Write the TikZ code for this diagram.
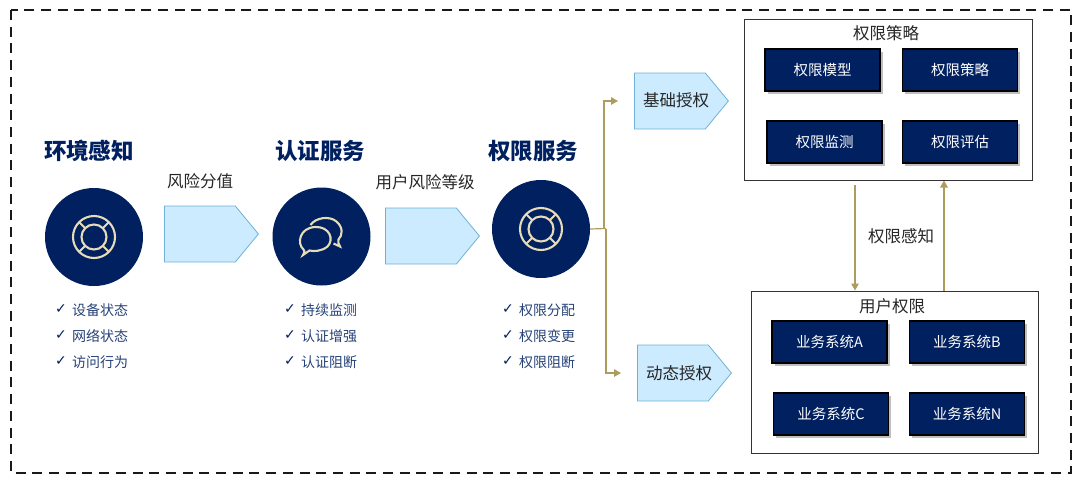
\documentclass[tikz,border=0pt]{standalone}
\usepackage{fontspec}
\setmainfont{Noto Sans CJK SC}
\newfontfamily\symfont{DejaVu Sans}
\usetikzlibrary{arrows.meta,shapes.symbols}
\definecolor{navy}{HTML}{002060}
\definecolor{gold}{HTML}{AD9C5E}
\definecolor{cream}{HTML}{E6DCB8}
\definecolor{skyfill}{HTML}{CCEBFF}
\definecolor{skyline}{HTML}{6FB1D6}
\tikzset{
  title/.style={text=navy,font=\fontsize{22.5}{24}\selectfont\bfseries,inner sep=0pt},
  label/.style={text=black!85,font=\fontsize{16.5}{18}\selectfont,inner sep=0pt},
  item/.style={text=navy!85,font=\fontsize{14}{16}\selectfont,inner sep=0pt,anchor=west},
  tick/.style={text=navy,font=\fontsize{14}{14}\selectfont\symfont,inner sep=0pt},
  disc/.style={circle,fill=navy,minimum size=98pt,inner sep=0pt},
  icon/.style={cream,line width=2.1pt},
  arrowbox/.style={signal,signal to=east,signal pointer angle=101,draw=skyline,fill=skyfill,line width=0.8pt,minimum width=94pt,minimum height=56pt,inner sep=0pt,anchor=west},
  panel/.style={draw=black!80,fill=white,line width=1pt,minimum width=288pt,minimum height=161pt,inner sep=0pt},
  darkbox/.style={draw=black,fill=navy,line width=1.2pt,minimum width=115pt,minimum height=42pt,inner sep=0pt,text=white,font=\fontsize{14.5}{16}\selectfont,preaction={draw=none,fill=black!25,transform canvas={shift={(2.5pt,-2.5pt)}}}},
  goldline/.style={gold,line width=1.2pt},
  goldarrow/.style={gold,line width=1.2pt,-{Triangle[length=7pt,width=7.5pt]}},
}
\begin{document}
\begin{tikzpicture}[x=1pt,y=-1pt]
\useasboundingbox (0,0) rectangle (1080,480);
\draw[black!90,line width=2pt,dash pattern=on 10pt off 6.7pt] (11,10) rectangle (1071,473);
% three columns
\node[disc] (envc) at (94,237) {};
\node[disc] (authc) at (321.5,236.5) {};
\node[disc] (permc) at (541,229) {};
\node[title] (envt) at (89,151) {环境感知};
\node[title] (autht) at (320,151) {认证服务};
\node[title] (permt) at (533,151) {权限服务};
\foreach \c in {envc,permc} {
  \begin{scope}[shift={(\c.center)}]
  \draw[icon] (0,0) circle (21);
  \draw[icon] (0,0) circle (12.5);
  \foreach \a in {45,135,225,315} \draw[icon] (\a:12.5) -- (\a:21);
  \end{scope}
}
\begin{scope}[shift={(authc.center)}]
\draw[icon] (-18.5,18.5) .. controls (-16.5,15) and (-17,14) .. (-18,13) .. controls (-25,7) and (-22,-9) .. (-6,-9.5) .. controls (8,-10) and (13,3) .. (6,10) .. controls (0,15) and (-8,15) .. (-12,14) -- cycle;
\draw[icon] (-11,-11.5) .. controls (-6,-19) and (8,-21) .. (15,-15) .. controls (22,-9) and (21,-1) .. (17,3) .. controls (16,5) and (17,7) .. (18.5,10) -- (12,7);
\end{scope}
% check lists
\foreach \n/\x/\y/\t in {a1/72/310/设备状态,a2/72/336/网络状态,a3/72/362/访问行为,b1/301/310/持续监测,b2/301/336/认证增强,b3/301/362/认证阻断,c1/519/310/权限分配,c2/519/336/权限变更,c3/519/362/权限阻断} {
  \node[item] (\n) at (\x,\y) {\t};
  \node[tick,anchor=east] (\n tick) at (\x-5,\y-1) {✓};
}
% arrows between columns
\node[arrowbox] (riskb) at (164,234) {};
\node[arrowbox] (levelb) at (385,236) {};
\node[label] (riskl) at (200,181) {风险分值};
\node[label] (levell) at (425,182) {用户风险等级};
\node[arrowbox] (basea) at (634,101) {};
\node[arrowbox] (dyna) at (637,373) {};
\node[label] (basel) at (676,100) {基础授权};
\node[label] (dynl) at (679,373) {动态授权};
% right panels
\node[panel] (policy) at (888,99.5) {};
\node[panel,minimum width=287pt,minimum height=162pt] (user) at (894.5,372) {};
\node[label] (policyl) at (886,33) {权限策略};
\node[label] (userl) at (892,306) {用户权限};
\foreach \n/\x/\y/\t in {p1/822.5/70/权限模型,p2/960/70/权限策略,p3/824.5/142/权限监测,p4/960/142/权限评估,u1/829.5/342/业务系统A,u2/967/342/业务系统B,u3/831/414/业务系统C,u4/967/414/业务系统N}
  \node[darkbox] (\n) at (\x,\y) {\t};
% connectors
\coordinate (fork) at (606,228.5);
\coordinate (forkup) at (604,228.5);
\coordinate (downtop) at (855,185);
\coordinate (upfoot) at (944,291);
\draw[goldline] (permc.east) -- (fork);
\draw[goldarrow,shorten >=16pt] (forkup) |- (basea.west);
\draw[goldarrow,shorten >=16pt] (fork) |- (dyna.west);
\draw[goldarrow] (downtop) -- (downtop |- user.north);
\draw[goldarrow,line width=1.6pt] (upfoot) -- (upfoot |- policy.south);
\node[label] (sensel) at (901,236) {权限感知};
\end{tikzpicture}
\end{document}
